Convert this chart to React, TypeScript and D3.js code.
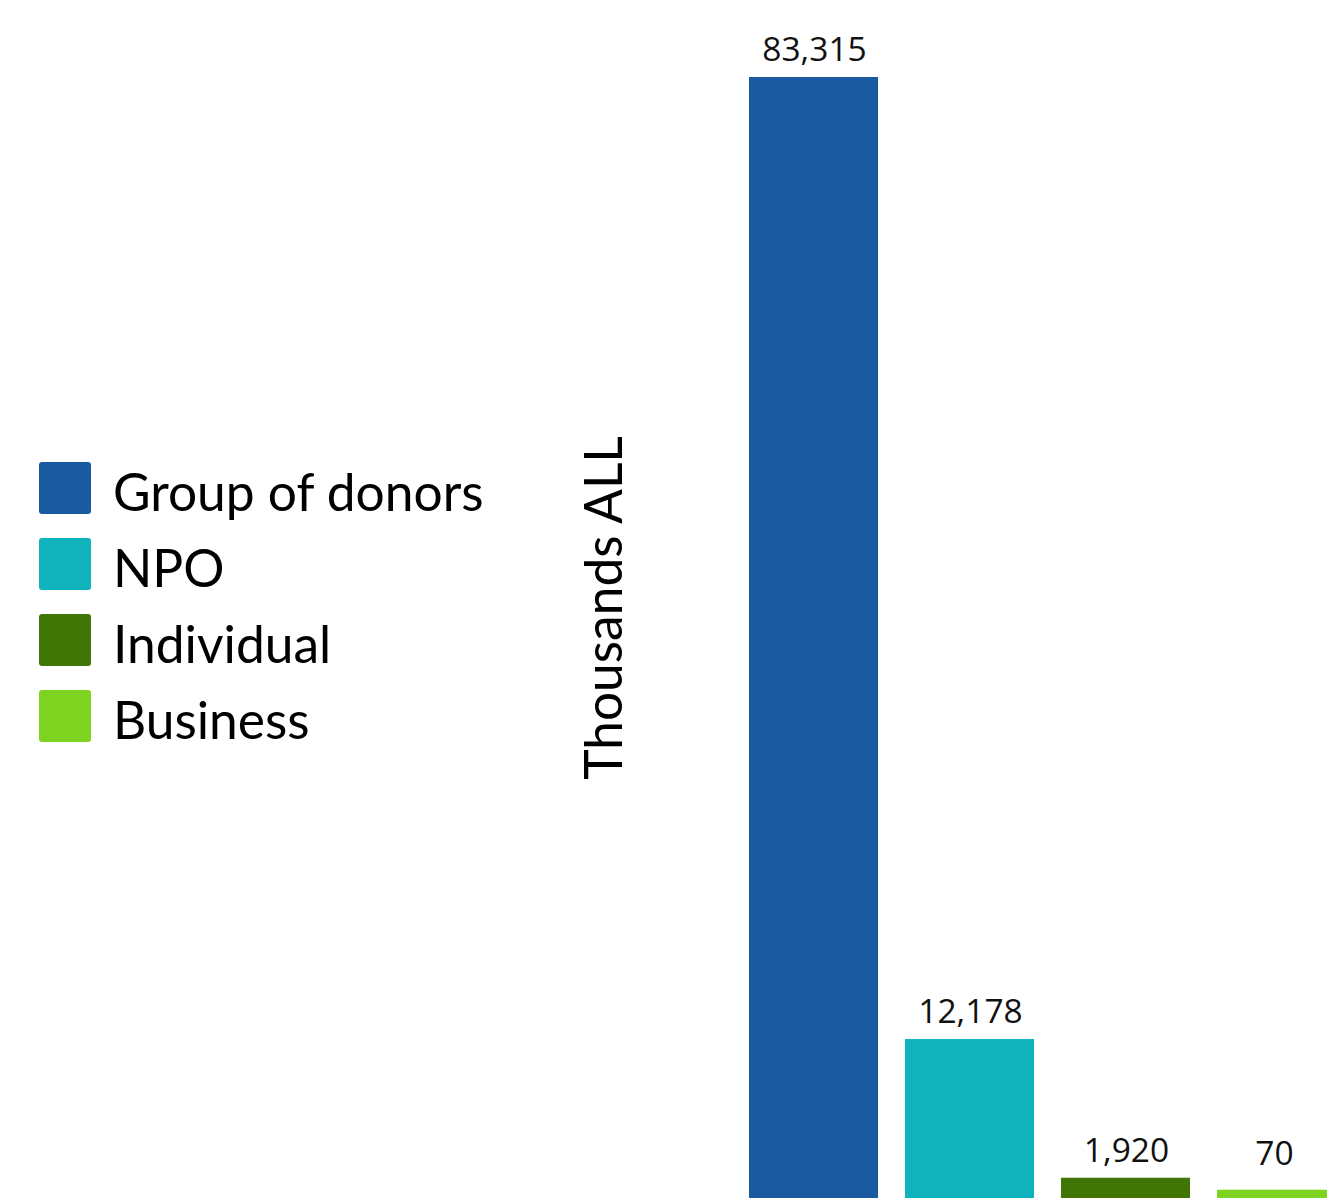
import React from "react";
import * as d3 from "d3";

const categories = ["Group of donors", "NPO", "Individual", "Business"];
const values = [83315, 12178, 1920, 70];
const colors = ["#1a5aa0", "#10b3bc", "#417505", "#7ed321"];
const yTitle = "Thousands ALL";

const W = 1327;
const H = 1198;

export default function App() {
  const x = d3
    .scaleBand<string>()
    .domain(categories)
    .range([735.5, 1359.5])
    .paddingInner(27 / 156)
    .paddingOuter(13.5 / 156);
  const baseline = 1203.7;
  const y = d3.scaleLinear().domain([0, 83315]).range([baseline, 77]);
  const minH = 14;
  const fmt = d3.format(",");

  return (
    <div style={{ position: "absolute", left: 0, top: 0 }}>
      <svg width={W} height={H} style={{ display: "block", background: "#fff" }}>
        {categories.map((c, i) => {
          const top = Math.min(y(values[i]), baseline - minH);
          const labelY = Math.max(top - 16, 49);
          const cx = (x(c) as number) + x.bandwidth() / 2;
          return (
            <g key={c}>
              <rect
                x={x(c)}
                y={top}
                width={x.bandwidth()}
                height={baseline - top}
                fill={colors[i]}
              />
              <text
                x={i === 3 ? cx - 7 : cx + 1}
                y={i === 3 ? labelY - 9 : labelY}
                textAnchor="middle"
                fontFamily="'Open Sans', sans-serif"
                fontSize={33.5}
                fill="#111"
              >
                {fmt(values[i])}
              </text>
            </g>
          );
        })}
        <text
          transform={`translate(622,608) rotate(-90)`}
          textAnchor="middle"
          fontFamily="Lato, sans-serif"
          fontSize={51.5}
          fill="#000"
        >
          {yTitle}
        </text>
        {categories.map((c, i) => (
          <g key={"lg" + c} transform={`translate(39,${462 + i * 76})`}>
            <rect width={52} height={52} rx={3} fill={colors[i]} />
            <text x={74} y={49} fontFamily="Lato, sans-serif" fontSize={51.5} fill="#000">
              {c}
            </text>
          </g>
        ))}
      </svg>
    </div>
  );
}
